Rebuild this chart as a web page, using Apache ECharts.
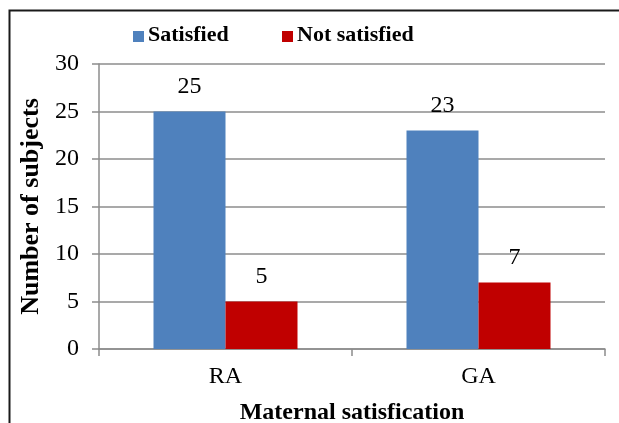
<!DOCTYPE html>
<html>
<head>
<meta charset="utf-8">
<script src="https://cdn.jsdelivr.net/npm/echarts@6/dist/echarts.min.js"></script>
<style>
  html, body { margin: 0; padding: 0; background: #fff; }
  #chart { width: 619px; height: 423px; }
</style>
</head>
<body>
<div id="chart"></div>
<script>
// Satisfaction counts by anaesthesia group
const categories = ['RA', 'GA'];
const satisfied = [25, 23];
const notSatisfied = [5, 7];
const seriesNames = ['Satisfied', 'Not satisfied'];
const seriesColors = ['#4f81bd', '#c00000'];
const yTicks = { min: 0, max: 30, interval: 5 };

const serif = 'Liberation Serif';
const gridGray = '#8c8c8c';

// Key: swatch + bold serif caption for each series
const keyX = [133, 282];
const keyElements = [];
seriesNames.forEach((name, i) => {
  keyElements.push({ type: 'rect', left: keyX[i], top: 31, shape: { width: 11, height: 11 }, style: { fill: seriesColors[i] } });
  keyElements.push({ type: 'text', left: keyX[i] + 15, top: 24,
    style: { text: name, fontFamily: serif, fontWeight: 'bold', fontSize: 22, fill: '#000' } });
});

const chart = echarts.init(document.getElementById('chart'), null, { renderer: 'canvas' });

chart.setOption({
  backgroundColor: '#ffffff',
  animation: false,
  legend: { show: false, data: seriesNames },
  graphic: [
    {
      type: 'rect',
      shape: { x: 9.5, y: 10.5, width: 700, height: 600 },
      style: { fill: 'none', stroke: '#1a1a1a', lineWidth: 2 },
      silent: true,
      z: 100
    }
  ].concat(keyElements),
  grid: { left: 99, right: 14, top: 64, bottom: 74, containLabel: false, outerBoundsMode: 'none' },
  xAxis: {
    type: 'category',
    data: categories,
    name: 'Maternal satisfication',
    nameLocation: 'middle',
    nameGap: 52,
    nameTextStyle: { fontFamily: serif, fontSize: 24, fontWeight: 'bold', color: '#000' },
    axisLine: { lineStyle: { color: gridGray, width: 1.5 } },
    axisTick: { show: true, length: 7, lineStyle: { color: gridGray, width: 1.5 } },
    axisLabel: { fontFamily: serif, fontSize: 24, color: '#000', margin: 16 }
  },
  yAxis: {
    type: 'value',
    min: yTicks.min,
    max: yTicks.max,
    interval: yTicks.interval,
    name: 'Number of subjects',
    nameLocation: 'middle',
    nameGap: 43,
    nameTextStyle: { fontFamily: serif, fontSize: 26, fontWeight: 'bold', color: '#000' },
    axisLine: { show: true, lineStyle: { color: gridGray, width: 1.5 } },
    axisTick: { show: true, length: 7, lineStyle: { color: gridGray, width: 1.5 } },
    axisLabel: { fontFamily: serif, fontSize: 24, color: '#000', margin: 20 },
    splitLine: { show: true, lineStyle: { color: gridGray, width: 1.5 } }
  },
  series: [
    {
      name: seriesNames[0],
      type: 'bar',
      data: satisfied,
      barWidth: 72,
      barGap: '0%',
      itemStyle: { color: seriesColors[0] },
      label: { show: true, position: 'top', distance: 13, fontFamily: serif, fontSize: 24, color: '#000' }
    },
    {
      name: seriesNames[1],
      type: 'bar',
      data: notSatisfied,
      barWidth: 72,
      barGap: '0%',
      itemStyle: { color: seriesColors[1] },
      label: { show: true, position: 'top', distance: 13, fontFamily: serif, fontSize: 24, color: '#000' }
    }
  ]
});
</script>
</body>
</html>
